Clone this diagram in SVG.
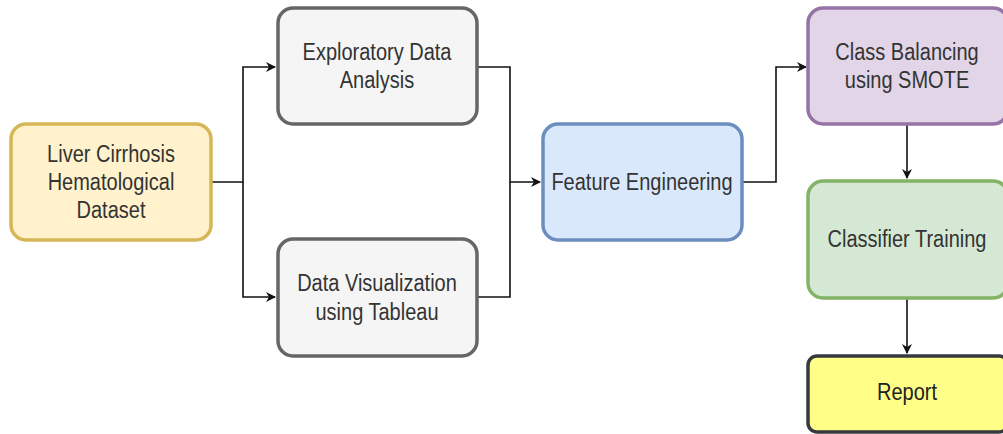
<svg xmlns="http://www.w3.org/2000/svg" width="1003" height="434" viewBox="0 0 1003 434">
<defs>
<style>
.n{stroke-width:3.5}
.t{font-family:"Liberation Sans",Arial,sans-serif;font-size:20px;fill:#333333;text-anchor:middle}
.c{fill:none;stroke:#111;stroke-width:1.6}
</style>
<marker id="a" viewBox="0 0 10 10" refX="9" refY="5" markerWidth="10" markerHeight="10" markerUnits="userSpaceOnUse" orient="auto">
<path d="M0,0 L10,5 L0,10 L3,5 Z" fill="#111"/>
</marker>
</defs>
<rect width="1003" height="434" fill="#ffffff"/>
<g id="connectors">
<path class="c" d="M212,182 H243 V67 H275" marker-end="url(#a)"/>
<path class="c" d="M243,182 V297 H275" marker-end="url(#a)"/>
<path class="c" d="M478,67 H510 V182 H540" marker-end="url(#a)"/>
<path class="c" d="M478,297 H510 V182"/>
<path class="c" d="M743,182 H776 V67 H806" marker-end="url(#a)"/>
<path class="c" d="M907,125 V178" marker-end="url(#a)"/>
<path class="c" d="M907,299 V353" marker-end="url(#a)"/>
</g>
<g id="dataset">
<rect class="n" x="11" y="124" width="200" height="116" rx="15" fill="#fff2cc" stroke="#d6b656"/>
<text class="t" transform="translate(111,162) scale(1,1.15)"><tspan x="0" y="0">Liver Cirrhosis</tspan><tspan x="0" y="24">Hematological</tspan><tspan x="0" y="48.5">Dataset</tspan></text>
</g>
<g id="eda">
<rect class="n" x="278" y="8" width="199" height="116" rx="15" fill="#f5f5f5" stroke="#666666"/>
<text class="t" transform="translate(377,60) scale(1,1.15)"><tspan x="0" y="0">Exploratory Data</tspan><tspan x="0" y="24">Analysis</tspan></text>
</g>
<g id="dataviz">
<rect class="n" x="278" y="239" width="199" height="117" rx="15" fill="#f5f5f5" stroke="#666666"/>
<text class="t" transform="translate(377,291) scale(1,1.15)"><tspan x="0" y="0">Data Visualization</tspan><tspan x="0" y="25">using Tableau</tspan></text>
</g>
<g id="feature">
<rect class="n" x="543" y="124" width="199" height="116" rx="15" fill="#dae8fc" stroke="#6c8ebf"/>
<text class="t" transform="translate(642,190) scale(1,1.15)"><tspan x="0" y="0">Feature Engineering</tspan></text>
</g>
<g id="smote">
<rect class="n" x="808" y="8" width="200" height="116" rx="15" fill="#e1d5e7" stroke="#9673a6"/>
<text class="t" transform="translate(907,60) scale(1,1.15)"><tspan x="0" y="0">Class Balancing</tspan><tspan x="0" y="24.5">using SMOTE</tspan></text>
</g>
<g id="classifier">
<rect class="n" x="808" y="181" width="200" height="117" rx="15" fill="#d5e8d4" stroke="#82b366"/>
<text class="t" transform="translate(907,247) scale(1,1.15)"><tspan x="0" y="0">Classifier Training</tspan></text>
</g>
<g id="report">
<rect class="n" x="808" y="356" width="200" height="76" rx="9" fill="#ffff88" stroke="#36393d"/>
<text class="t" transform="translate(907,400) scale(1,1.15)" style="fill:#222"><tspan x="0" y="0">Report</tspan></text>
</g>
</svg>
